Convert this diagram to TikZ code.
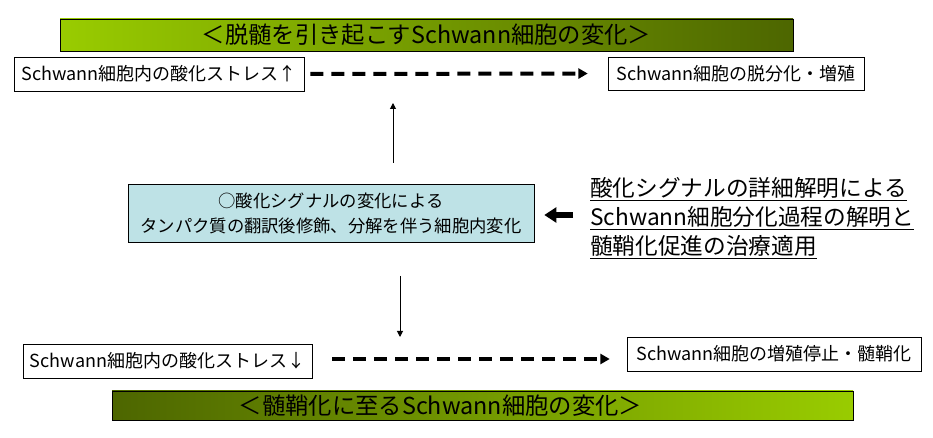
\documentclass[tikz,border=0pt]{standalone}
\usepackage{fontspec}
\setmainfont{Noto Sans CJK JP}
\usetikzlibrary{positioning, arrows.meta}
\definecolor{leafgreen}{RGB}{153,204,0}
\definecolor{darkolive}{RGB}{77,102,0}
\definecolor{paleteal}{RGB}{190,226,230}
\tikzset {
    >={Triangle[length=4.5pt, width=4.5pt]},
    banner/.style={draw, thin, inner sep=0pt, font=\fontsize{17.5}{20}\selectfont},
    stagebox/.style={draw, thin, fill=white, inner sep=0pt, font=\fontsize{13.5}{16}\selectfont},
    signalbox/.style={draw, thin, fill=paleteal, inner sep=0pt, align=center, font=\fontsize{13}{18.75}\selectfont},
    findings/.style={inner sep=0pt, align=left, font=\fontsize{17}{21.75}\selectfont},
    dasharrow/.style={-{Triangle[length=7pt, width=7.5pt]}, line width=3pt, dash pattern=on 9.75pt off 6pt},
    thinarrow/.style={->, line width=0.75pt},
    fatarrow/.style={-{Triangle[length=9pt, width=11pt]}, line width=4pt}
}
\begin{document}
\begin{tikzpicture}[x=0.75pt, y=-0.75pt]
    \useasboundingbox (0,0) rectangle (933,438);

    \node[banner, left color=leafgreen, right color=darkolive, minimum width=549.75pt, minimum height=24pt] (demyel) at (426.5,35) {＜脱髄を引き起こすSchwann細胞の変化＞};
    \node[stagebox, minimum width=217.5pt, minimum height=25.5pt] (stressup) at (159,74) {Schwann細胞内の酸化ストレス↑};
    \node[stagebox, minimum width=192pt, minimum height=24.75pt] (dediff) at (736,73.5) {Schwann細胞の脱分化・増殖};
    \node[signalbox, minimum width=304.5pt, minimum height=43.5pt] (signal) at (331,213) {○酸化シグナルの変化による\\タンパク質の翻訳後修飾、分解を伴う細胞内変化};
    \node[findings, anchor=west] (aims) at (590,218) {\underline{酸化シグナルの詳細解明による}\\\underline{Schwann細胞分化過程の解明と}\\\underline{髄鞘化促進の治療適用}};
    \node[stagebox, minimum width=216.75pt, minimum height=25.5pt] (stressdown) at (167.5,361) {Schwann細胞内の酸化ストレス↓};
    \node[stagebox, minimum width=220.5pt, minimum height=25.5pt] (myelin) at (774,354) {Schwann細胞の増殖停止・髄鞘化};
    \node[banner, left color=darkolive, right color=leafgreen, minimum width=555.75pt, minimum height=21.75pt] (remyel) at (482.5,405.5) {＜髄鞘化に至るSchwann細胞の変化＞\hspace*{63pt}};

    % free ends of the short arrows
    \coordinate (upfoot) at (393,163);
    \coordinate (uphead) at (393,103);
    \coordinate (downfoot) at (400,276);
    \coordinate (downhead) at (400,337);
    \coordinate (lowdash) at (332,359);
    \coordinate (fattail) at (573,215);

    \draw[dasharrow, shorten <=4.5pt, shorten >=15pt] (stressup.east) -- (dediff.west);
    \draw[dasharrow, shorten >=12.75pt] (lowdash) -- (lowdash -| myelin.west);
    \draw[thinarrow] (upfoot) -- (uphead);
    \draw[thinarrow] (downfoot) -- (downhead);
    \draw[fatarrow, shorten >=7.5pt] (fattail) -- (fattail -| signal.east);
\end{tikzpicture}
\end{document}
